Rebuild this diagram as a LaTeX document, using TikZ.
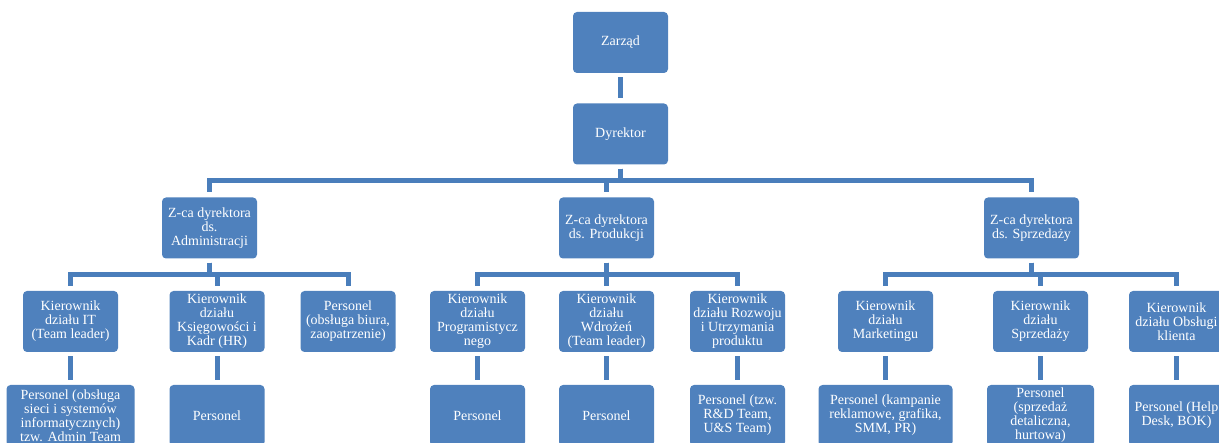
\documentclass[tikz,border=0pt]{standalone}
\usepackage{fontspec}
\setmainfont{Liberation Serif}
\definecolor{boxBlue}{HTML}{4F81BD}
\definecolor{lineBlue}{HTML}{4A7EBB}

\begin{document}
\begin{tikzpicture}
[x=1pt,y=-1pt,%
  orgBox/.style={shape=rectangle,rounded corners=4pt,fill=boxBlue,text=white,
    align=center,minimum width=95pt,minimum height=61pt,inner sep=2pt,
    font=\fontsize{14}{14}\selectfont},%
  orgLine/.style={draw=lineBlue,line width=5pt,shorten <=4pt,shorten >=5pt}]
\useasboundingbox (0,0) rectangle (1219,443);
\clip (0,0) rectangle (1219,443);
%% top of the chart
\node (zarzad) at (620.5,42.5) [orgBox] {Zarząd};
\node (dyrektor) at (620.5,134) [orgBox] {Dyrektor};
\node (zcaAdm) at (209.5,228) [orgBox] {Z-ca dyrektora\\ds.\\Administracji};
\node (zcaProd) at (606.5,228) [orgBox] {Z-ca dyrektora\\ds. Produkcji};
\node (zcaSprz) at (1031.5,228) [orgBox] {Z-ca dyrektora\\ds. Sprzedaży};
%% heads of departments
\foreach \nodename/\x/\txt in {
  kIT/70.5/{Kierownik\\działu IT\\(Team leader)},
  kKsieg/217/{Kierownik\\działu\\Księgowości i\\Kadr (HR)},
  pBiuro/348/{Personel\\(obsługa biura,\\zaopatrzenie)},
  kProg/477.5/{Kierownik\\działu\\Programistycz\\nego},
  kWdroz/606.5/{Kierownik\\działu\\Wdrożeń\\(Team leader)},
  kRozw/737.5/{Kierownik\\działu Rozwoju\\i Utrzymania\\produktu},
  kMark/885.5/{Kierownik\\działu\\Marketingu},
  kSprz/1040.5/{Kierownik\\działu\\Sprzedaży},
  kObsl/1176.5/{Kierownik\\działu Obsługi\\klienta}}
{
  \node (\nodename) at (\x,321.5) [orgBox] {\txt};
}
%% staff
\foreach \nodename/\x/\w/\txt in {
  pIT/70.5/128/{Personel (obsługa\\sieci i systemów\\informatycznych)\\tzw. Admin Team},
  pKsieg/217/95/{Personel},
  pProg/477.5/95/{Personel},
  pWdroz/606.5/95/{Personel},
  pRozw/737.5/95/{Personel (tzw.\\R\&D Team,\\U\&S Team)},
  pMark/885.5/134/{Personel (kampanie\\reklamowe, grafika,\\SMM, PR)},
  pSprz/1040.5/107/{Personel\\(sprzedaż\\detaliczna,\\hurtowa)},
  pObsl/1176.5/95/{Personel (Help\\Desk, BOK)}}
{
  \node (\nodename) at (\x,415.5) [orgBox,minimum width=\w pt] {\txt};
}
%% connectors
\draw[orgLine] (zarzad.south) -- (dyrektor.north);
\foreach \child in {zcaAdm, zcaProd, zcaSprz}
{
  \draw[orgLine] (dyrektor.south) -- ++(0,16) -| (\child.north);
}
\foreach \parent/\child in {zcaAdm/kIT, zcaAdm/kKsieg, zcaAdm/pBiuro,
  zcaProd/kProg, zcaProd/kWdroz, zcaProd/kRozw,
  zcaSprz/kMark, zcaSprz/kSprz, zcaSprz/kObsl}
{
  \draw[orgLine] (\parent.south) -- ++(0,16) -| (\child.north);
}
\foreach \parent/\child in {kIT/pIT, kKsieg/pKsieg, kProg/pProg, kWdroz/pWdroz,
  kRozw/pRozw, kMark/pMark, kSprz/pSprz, kObsl/pObsl}
{
  \draw[orgLine] (\parent.south) -- (\child.north);
}
\end{tikzpicture}
\end{document}
